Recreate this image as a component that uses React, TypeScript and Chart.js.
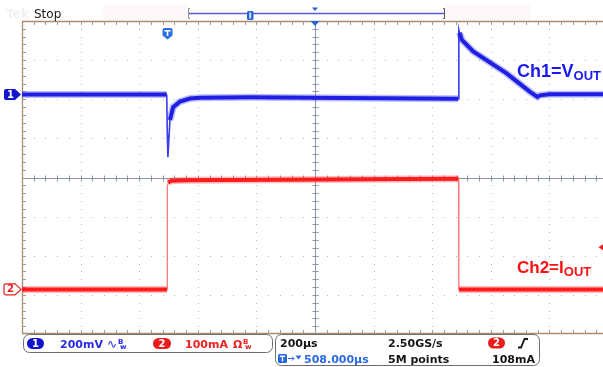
import React, { useEffect, useRef } from "react";
import { Chart, registerables } from "chart.js";

Chart.register(...registerables);

// Horizontal: time in µs (200 µs/div). Vertical: screen divisions (8 div tall, 0 = centre).
const timeSpanUs = 1983;
const usPerDiv = 200;

const ch1TimeUs = [0, 494, 496, 498, 505, 516, 539, 573, 607, 778, 1100, 1489, 1491, 1493, 1502, 1540, 1654, 1734, 1759, 1768, 1800, 1983];
const ch1Div = [2.12, 2.12, 1.1, 0.52, 1.47, 1.8, 1.94, 2.02, 2.04, 2.05, 2.03, 2.01, 3.77, 3.7, 3.51, 3.22, 2.66, 2.19, 2.06, 2.1, 2.13, 2.13];

const ch2TimeUs = [0, 495, 496, 499, 510, 560, 1490, 1491, 1983];
const ch2Div = [-2.86, -2.86, -0.24, -0.13, -0.08, -0.07, -0.03, -2.86, -2.86];

const ch1MarkerDiv = 2.12;
const ch2MarkerDiv = -2.86;
const triggerTimeUs = 495;
const triggerLevelmA = 108;
const ch2mAPerDiv = 100;

const toPoints = (t: number[], v: number[]) => t.map((x, i) => ({ x, y: v[i] }));

function rr(ctx: CanvasRenderingContext2D, x: number, y: number, w: number, h: number, r: number) {
  ctx.beginPath();
  ctx.moveTo(x + r, y);
  ctx.arcTo(x + w, y, x + w, y + h, r);
  ctx.arcTo(x + w, y + h, x, y + h, r);
  ctx.arcTo(x, y + h, x, y, r);
  ctx.arcTo(x, y, x + w, y, r);
  ctx.closePath();
}

const scopePlugin = {
  id: "scopeDecor",
  beforeDatasetsDraw(chart: any) {
    const { ctx, chartArea: a } = chart;
    const xs = chart.scales.x;
    const ys = chart.scales.y;
    ctx.save();
    // dotted graticule
    ctx.fillStyle = "#b4b4b4";
    for (let k = 1; k <= 9; k++) {
      if (k === 5) continue;
      const px = Math.round(xs.getPixelForValue(k * usPerDiv));
      for (let m = 1; m < 40; m++) {
        const py = Math.round(ys.getPixelForValue(-4 + m * 0.2));
        ctx.fillRect(px, py, 1, 1);
      }
    }
    for (let k = -3; k <= 3; k++) {
      if (k === 0) continue;
      const py = Math.round(ys.getPixelForValue(k));
      for (let m = 1; m < 50; m++) {
        const px = Math.round(xs.getPixelForValue(m * 40));
        ctx.fillRect(px, py, 1, 1);
      }
    }
    // centre lines with minor ticks
    ctx.strokeStyle = "#8b95a8";
    ctx.lineWidth = 1;
    const y0 = Math.round(ys.getPixelForValue(0)) + 0.5;
    const x0 = Math.round(xs.getPixelForValue(1000)) + 0.5;
    ctx.beginPath();
    ctx.moveTo(a.left, y0);
    ctx.lineTo(a.right, y0);
    ctx.moveTo(x0, a.top);
    ctx.lineTo(x0, a.bottom);
    for (let m = 1; m < 50; m++) {
      const px = Math.round(xs.getPixelForValue(m * 40)) + 0.5;
      ctx.moveTo(px, y0 - 3);
      ctx.lineTo(px, y0 + 3);
    }
    for (let m = 1; m < 40; m++) {
      const py = Math.round(ys.getPixelForValue(-4 + m * 0.2)) + 0.5;
      ctx.moveTo(x0 - 3, py);
      ctx.lineTo(x0 + 3, py);
    }
    ctx.stroke();
    // borders
    ctx.strokeStyle = "#a88c72";
    ctx.lineWidth = 1.3;
    ctx.beginPath();
    ctx.moveTo(a.left, a.top + 0.5);
    ctx.lineTo(a.right, a.top + 0.5);
    ctx.moveTo(a.left + 0.5, a.top);
    ctx.lineTo(a.left + 0.5, a.bottom);
    ctx.moveTo(a.left, a.bottom - 0.5);
    ctx.lineTo(a.right, a.bottom - 0.5);
    ctx.stroke();
    ctx.lineWidth = 1;
    ctx.strokeStyle = "#a89886";
    ctx.beginPath();
    for (let m = 1; m < 50; m++) {
      const px = Math.round(xs.getPixelForValue(m * 40)) + 0.5;
      ctx.moveTo(px, a.top);
      ctx.lineTo(px, a.top + 4);
      ctx.moveTo(px, a.bottom);
      ctx.lineTo(px, a.bottom - 4);
    }
    for (let m = 1; m < 40; m++) {
      const py = Math.round(ys.getPixelForValue(-4 + m * 0.2)) + 0.5;
      ctx.moveTo(a.left, py);
      ctx.lineTo(a.left + 4, py);
    }
    ctx.stroke();
    ctx.restore();
  },
  afterDraw(chart: any) {
    const { ctx, chartArea: a } = chart;
    const xs = chart.scales.x;
    const ys = chart.scales.y;
    ctx.save();

    // header
    ctx.fillStyle = "#fdf7fa";
    ctx.fillRect(103, 5, 84, 15);
    ctx.fillRect(446, 5, 84, 15);
    ctx.fillStyle = "#f1f1f1";
    ctx.font = "bold 12px 'DejaVu Sans'";
    ctx.textBaseline = "alphabetic";
    ctx.fillText("Tek", 6, 18);
    ctx.fillStyle = "#151515";
    ctx.font = "12px 'DejaVu Sans'";
    ctx.fillText("Stop", 34, 18);

    // record bar
    ctx.strokeStyle = "#5a5ad8";
    ctx.lineWidth = 1.3;
    ctx.beginPath();
    ctx.moveTo(188, 13.5);
    ctx.lineTo(445, 13.5);
    ctx.stroke();
    ctx.lineWidth = 1;
    ctx.strokeStyle = "#8a8a8a";
    ctx.beginPath();
    ctx.moveTo(190, 8.5); ctx.lineTo(188.5, 8.5); ctx.lineTo(188.5, 18.5); ctx.lineTo(190, 18.5);
    ctx.stroke();
    ctx.strokeStyle = "#555";
    ctx.beginPath();
    ctx.moveTo(443, 8.5); ctx.lineTo(444.5, 8.5); ctx.lineTo(444.5, 18.5); ctx.lineTo(443, 18.5);
    ctx.stroke();
    ctx.fillStyle = "#2a5fd8";
    rr(ctx, 247, 11, 6.5, 9, 1.5);
    ctx.fill();
    ctx.fillStyle = "#cfe0ff";
    ctx.fillRect(249.2, 12.5, 2, 6);
    const xc = xs.getPixelForValue(1000);
    ctx.fillStyle = "#2a5fd8";
    ctx.beginPath();
    ctx.moveTo(xc - 3, 7.5); ctx.lineTo(xc + 3, 7.5); ctx.lineTo(xc, 11);
    ctx.closePath(); ctx.fill();
    ctx.beginPath();
    ctx.moveTo(xc - 4.5, a.top); ctx.lineTo(xc + 4.5, a.top); ctx.lineTo(xc, a.top + 5);
    ctx.closePath(); ctx.fill();

    // trigger position marker
    const tx = xs.getPixelForValue(triggerTimeUs) + 0.5;
    ctx.fillStyle = "#2a6fe2";
    ctx.beginPath();
    ctx.moveTo(tx - 5, 30);
    ctx.arcTo(tx - 5, 28, tx + 5, 28, 2);
    ctx.arcTo(tx + 5, 28, tx + 5, 35, 2);
    ctx.lineTo(tx + 5, 35.5);
    ctx.lineTo(tx, 39.5);
    ctx.lineTo(tx - 5, 35.5);
    ctx.closePath();
    ctx.fill();
    ctx.fillStyle = "#ffffff";
    ctx.fillRect(tx - 3, 30, 6, 1.6);
    ctx.fillRect(tx - 0.8, 30, 1.6, 6);

    // trigger level marker (right edge)
    const tly = ys.getPixelForValue(ch2MarkerDiv + triggerLevelmA / ch2mAPerDiv);
    ctx.fillStyle = "#f01818";
    ctx.beginPath();
    ctx.moveTo(598.5, tly); ctx.lineTo(603, tly - 3); ctx.lineTo(603, tly + 3);
    ctx.closePath(); ctx.fill();

    // channel ground markers
    const chMarker = (cy: number, fill: string, stroke: string, txt: string, tc: string) => {
      ctx.beginPath();
      ctx.moveTo(6, cy - 5.5);
      ctx.lineTo(15, cy - 5.5);
      ctx.lineTo(21, cy);
      ctx.lineTo(15, cy + 5.5);
      ctx.lineTo(6, cy + 5.5);
      ctx.arcTo(4, cy + 5.5, 4, cy, 2);
      ctx.arcTo(4, cy - 5.5, 6, cy - 5.5, 2);
      ctx.closePath();
      ctx.fillStyle = fill;
      ctx.fill();
      if (stroke) { ctx.strokeStyle = stroke; ctx.lineWidth = 1.2; ctx.stroke(); }
      ctx.fillStyle = tc;
      ctx.font = "bold 10px 'DejaVu Sans'";
      ctx.textAlign = "center";
      ctx.textBaseline = "middle";
      ctx.fillText(txt, 10.5, cy + 0.5);
      ctx.textAlign = "left";
      ctx.textBaseline = "alphabetic";
    };
    chMarker(ys.getPixelForValue(ch1MarkerDiv), "#1414cc", "", "1", "#ffffff");
    chMarker(ys.getPixelForValue(ch2MarkerDiv), "#ffffff", "#e82020", "2", "#e82020");

    // channel labels
    const label = (x: number, y: number, main: string, sub: string, color: string, size: number) => {
      ctx.fillStyle = color;
      ctx.font = `bold ${size}px 'Liberation Sans'`;
      ctx.fillText(main, x, y);
      const w = ctx.measureText(main).width;
      ctx.font = "bold 13px 'Liberation Sans'";
      ctx.fillText(sub, x + w, y + 3);
    };
    label(517, 77, "Ch1=V", "OUT", "#1a1aee", 18);
    label(517, 273, "Ch2=I", "OUT", "#ff1010", 17);

    // status boxes
    ctx.lineWidth = 1;
    ctx.strokeStyle = "#6e6e6e";
    ctx.fillStyle = "#ffffff";
    rr(ctx, 23.5, 334.5, 249, 18, 6);
    ctx.fill(); ctx.stroke();
    rr(ctx, 275.5, 334.5, 264, 31, 6);
    ctx.fill(); ctx.stroke();

    const pill = (x: number, y: number, w: number, color: string, txt: string) => {
      ctx.fillStyle = color;
      rr(ctx, x, y, w, 11, 5.5);
      ctx.fill();
      ctx.fillStyle = "#ffffff";
      ctx.font = "bold 10px 'DejaVu Sans'";
      ctx.textAlign = "center";
      ctx.textBaseline = "middle";
      ctx.fillText(txt, x + w / 2, y + 6);
      ctx.textAlign = "left";
      ctx.textBaseline = "alphabetic";
    };
    pill(27, 338, 17, "#1414c8", "1");
    pill(153, 338, 18, "#ec1c1c", "2");
    pill(488, 337.5, 17, "#ec1c1c", "2");

    ctx.font = "bold 11px 'DejaVu Sans'";
    ctx.fillStyle = "#2a2ae6";
    ctx.fillText("200mV", 60, 347.5);
    ctx.font = "12px 'DejaVu Sans'";
    ctx.fillText("∿", 107, 347.5);
    ctx.font = "bold 7px 'DejaVu Sans'";
    ctx.fillText("B", 118, 343.5);
    ctx.fillText("w", 120, 348.5);

    ctx.fillStyle = "#ee2020";
    ctx.font = "bold 11px 'DejaVu Sans'";
    ctx.fillText("100mA", 185, 347.5);
    ctx.font = "bold 11px 'DejaVu Sans'";
    ctx.fillText("Ω", 233, 347.5);
    ctx.font = "bold 7px 'DejaVu Sans'";
    ctx.fillText("B", 243, 343.5);
    ctx.fillText("w", 245, 348.5);

    ctx.fillStyle = "#141414";
    ctx.font = "bold 11px 'DejaVu Sans'";
    ctx.fillText("200µs", 280, 346.5);
    ctx.fillText("2.50GS/s", 388, 346.5);
    ctx.fillText("5M points", 388, 362.5);
    ctx.fillText("108mA", 492, 362.5);

    // rising edge icon
    ctx.strokeStyle = "#141414";
    ctx.lineWidth = 1.8;
    ctx.beginPath();
    ctx.moveTo(518, 347.5);
    ctx.lineTo(521, 347.5);
    ctx.lineTo(524.5, 339);
    ctx.lineTo(528, 339);
    ctx.stroke();

    // trigger position readout
    ctx.fillStyle = "#2266dd";
    rr(ctx, 278, 354, 9, 9, 1.5);
    ctx.fill();
    ctx.fillStyle = "#ffffff";
    ctx.fillRect(279.8, 355.6, 5.4, 1.4);
    ctx.fillRect(281.8, 355.6, 1.4, 5.8);
    ctx.strokeStyle = "#2a6ae6";
    ctx.lineWidth = 1;
    ctx.beginPath();
    ctx.moveTo(288, 358.5); ctx.lineTo(294, 358.5);
    ctx.moveTo(292, 356.5); ctx.lineTo(294, 358.5); ctx.lineTo(292, 360.5);
    ctx.stroke();
    ctx.fillStyle = "#2a6ae6";
    ctx.beginPath();
    ctx.moveTo(295.5, 355.5); ctx.lineTo(301.5, 355.5); ctx.lineTo(298.5, 359.5);
    ctx.closePath(); ctx.fill();
    ctx.font = "bold 11px 'DejaVu Sans'";
    ctx.fillText("508.000µs", 304, 362.5);

    ctx.restore();
  },
};

const steep = (c: any) => {
  const dx = Math.abs(c.p1.x - c.p0.x);
  const dy = Math.abs(c.p1.y - c.p0.y);
  return dx < 1.5 || dy / dx > 8;
};

export default function App() {
  const ref = useRef<HTMLCanvasElement | null>(null);
  useEffect(() => {
    document.body.style.margin = "0";
    const canvas = ref.current;
    if (!canvas) return;
    const blue = "#1f1fe4";
    const blueFuzz = "rgba(70,70,240,0.35)";
    const red = "#ff1c1c";
    const redFuzz = "rgba(255,70,70,0.35)";
    const chart = new Chart(canvas, {
      type: "line",
      data: {
        datasets: [
          {
            data: toPoints(ch1TimeUs, ch1Div),
            borderColor: blue,
            borderWidth: 4,
            pointRadius: 0,
            tension: 0,
            segment: {
              borderWidth: (c: any) => (steep(c) ? 1.6 : 4),
              borderColor: (c: any) => (steep(c) ? "#3a3aee" : blue),
            },
          },
          {
            data: toPoints(ch2TimeUs, ch2Div),
            borderColor: red,
            borderWidth: 4,
            pointRadius: 0,
            tension: 0,
            segment: {
              borderWidth: (c: any) => (steep(c) ? 1.2 : 4),
              borderColor: (c: any) => (steep(c) ? "#ff7070" : red),
            },
          },
          {
            data: toPoints(ch1TimeUs, ch1Div),
            borderColor: blueFuzz,
            borderWidth: 7,
            pointRadius: 0,
            tension: 0,
            segment: {
              borderColor: (c: any) => (steep(c) ? "rgba(0,0,0,0)" : blueFuzz),
            },
          },
          {
            data: toPoints(ch2TimeUs, ch2Div),
            borderColor: redFuzz,
            borderWidth: 7,
            pointRadius: 0,
            tension: 0,
            segment: {
              borderColor: (c: any) => (steep(c) ? "rgba(0,0,0,0)" : redFuzz),
            },
          },
        ],
      },
      options: {
        animation: false,
        responsive: false,
        maintainAspectRatio: false,
        devicePixelRatio: 1,
        events: [],
        layout: { padding: { left: 22, right: 0, top: 21, bottom: 33 } },
        plugins: { legend: { display: false }, tooltip: { enabled: false } },
        scales: {
          x: { type: "linear", min: 0, max: timeSpanUs, display: false },
          y: { type: "linear", min: -4, max: 4, display: false },
        },
      },
      plugins: [scopePlugin],
    } as any);
    return () => chart.destroy();
  }, []);
  return (
    <div style={{ position: "fixed", left: 0, top: 0, width: 603, height: 367, background: "#fff" }}>
      <canvas ref={ref} width={603} height={367} style={{ display: "block" }} />
    </div>
  );
}
